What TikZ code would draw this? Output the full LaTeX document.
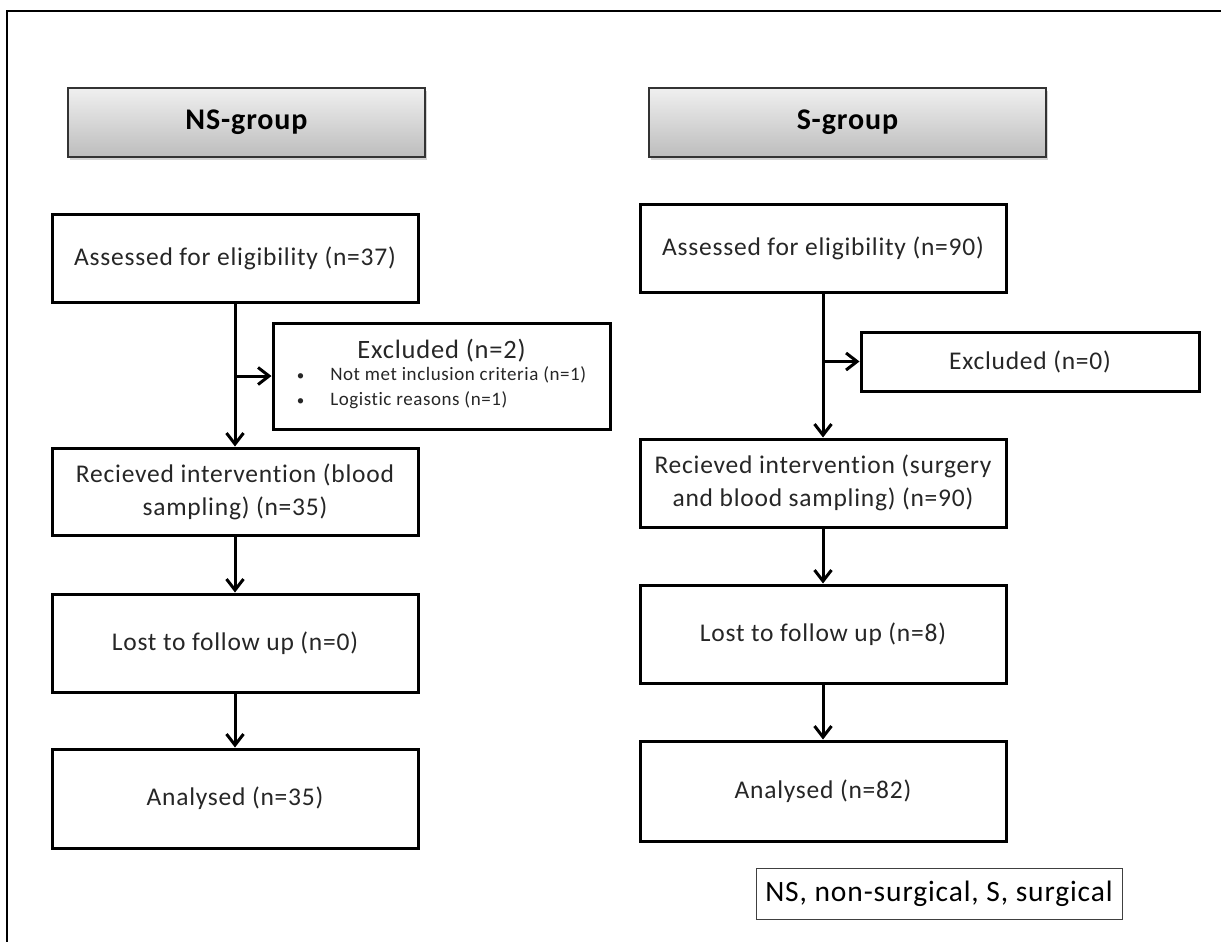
\documentclass[tikz,border=0pt]{standalone}
\usepackage{fontspec}
\setmainfont{Carlito}[LetterSpace=3, Ligatures=NoCommon]
\usetikzlibrary{arrows.meta,positioning,shadows}

\begin{document}
\begin{tikzpicture}[
    x=1pt, y=1pt,
    box/.style={draw, line width=3pt, align=center, inner sep=0pt, minimum width=366pt, text=black!85, font=\fontsize{25.5}{33}\selectfont},
    head/.style={draw=black!80, line width=1.2pt, top color=black!6, bottom color=black!26,
        drop shadow={shadow xshift=2pt, shadow yshift=-3pt, opacity=0.35},
        minimum height=69pt, font=\bfseries\fontsize{30}{36}\selectfont},
    note/.style={draw=black!75, line width=1pt, minimum width=366pt, minimum height=51pt, font=\fontsize{29.5}{34}\selectfont},
    link/.style={-{Straight Barb[length=11pt,width=17pt]}, line width=3pt}
]
\useasboundingbox (0,0) rectangle (1221,-942);
\draw[line width=2pt] (7,-942) -- (7,-11) -- (1221,-11);

% group headers
\node[head, minimum width=357pt] (nshead) at (246.5,-122.5) {NS-group};
\node[head, minimum width=397pt] (shead) at (847.5,-122.5) {S-group};

% NS column
\node[box, minimum height=88pt] (nsassess) at (235,-258) {Assessed for eligibility (n=37)};
\node[box, minimum width=337pt, minimum height=106pt] (nsexcl) at (441.5,-376) {\fontsize{26.5}{30}\selectfont Excluded (n=2)\\[1pt]
    {\fontsize{19}{25}\selectfont\begin{tabular}{@{}l@{\hspace{26pt}}l@{}}
    {\fontsize{15}{15}\selectfont\textbullet} & Not met inclusion criteria (n=1)\\
    {\fontsize{15}{15}\selectfont\textbullet} & Logistic reasons (n=1)
    \end{tabular}}};
\node[box, minimum height=87pt] (nsrec) at (235,-491.5) {Recieved intervention (blood\\sampling) (n=35)};
\node[box, minimum height=98pt] (nslost) at (235,-643) {Lost to follow up (n=0)};
\node[box, minimum height=99pt] (nsanal) at (235,-798.5) {Analysed (n=35)};

% S column
\node[box, minimum height=88pt] (sassess) at (823,-248) {Assessed for eligibility (n=90)};
\node[box, minimum width=338pt, minimum height=59pt] (sexcl) at (1030,-361.5) {Excluded (n=0)};
\node[box, minimum height=88pt] (srec) at (823,-483) {Recieved intervention (surgery\\and blood sampling) (n=90)};
\node[box, minimum height=98pt] (slost) at (823,-634) {Lost to follow up (n=8)};
\node[box, minimum height=100pt] (sanal) at (823,-791) {Analysed (n=82)};

\node[note] (legend) at (939,-893.5) {NS, non-surgical, S, surgical};

\draw[link] (nsassess) -- (nsrec);
\draw[link] (nsassess.south |- nsexcl.west) -- (nsexcl);
\draw[link] (nsrec) -- (nslost);
\draw[link] (nslost) -- (nsanal);

\draw[link] (sassess) -- (srec);
\draw[link] (sassess.south |- sexcl.west) -- (sexcl);
\draw[link] (srec) -- (slost);
\draw[link] (slost) -- (sanal);
\end{tikzpicture}
\end{document}
